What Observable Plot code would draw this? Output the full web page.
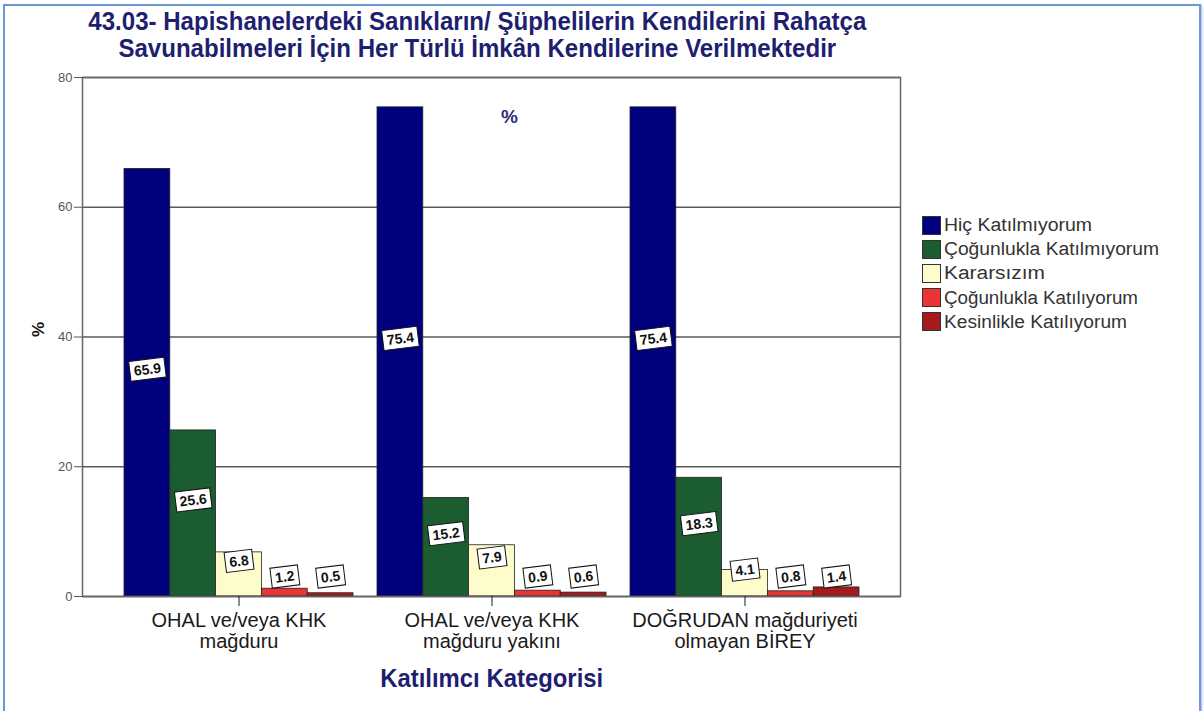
<!DOCTYPE html>
<html>
<head>
<meta charset="utf-8">
<script src="https://cdn.jsdelivr.net/npm/d3@7"></script>
<script src="https://cdn.jsdelivr.net/npm/@observablehq/plot@0.6"></script>
<style>
  html, body { margin: 0; padding: 0; background: #fff; }
  #wrap { position: relative; width: 1204px; height: 711px; overflow: hidden; font-family: "Liberation Sans", Arial, sans-serif; }
  #chart { position: absolute; left: 0; top: 0; }
  .fit { position: absolute; white-space: pre; text-align: center; transform-origin: 50% 50%; }
  .title { font-family: "Liberation Sans Narrow", "Arial Narrow", "Liberation Sans", Arial, sans-serif; font-weight: bold; color: #1f1f70; font-size: 25px; line-height: 27px; }
  .legrow { position: absolute; left: 922px; height: 24px; display: flex; align-items: center; }
  .sw { width: 19px; height: 19px; box-sizing: border-box; border: 1px solid #333; margin-right: 3px; flex: none; }
  .legtxt { font-size: 18px; line-height: 20px; color: #333; white-space: nowrap; transform-origin: 0 50%; display: inline-block; }
  #border { position: absolute; left: 3px; top: 4px; width: 1194px; height: 720px; border: 2px solid #6b98d6; box-shadow: 1px 1px 2px #9bb8e0; }
</style>
</head>
<body>
<div id="wrap">
  <div id="chart"></div>
  <div id="border"></div>
</div>
<script>
const categories = ["OHAL ve/veya KHK\nmağduru", "OHAL ve/veya KHK\nmağduru yakını", "DOĞRUDAN mağduriyeti\nolmayan BİREY"];
const seriesNames = ["Hiç Katılmıyorum", "Çoğunlukla Katılmıyorum", "Kararsızım", "Çoğunlukla Katılıyorum", "Kesinlikle Katılıyorum"];
const hicKatilmiyorum = [65.9, 75.4, 75.4];
const cogunluklaKatilmiyorum = [25.6, 15.2, 18.3];
const kararsizim = [6.8, 7.9, 4.1];
const cogunluklaKatiliyorum = [1.2, 0.9, 0.8];
const kesinlikleKatiliyorum = [0.5, 0.6, 1.4];
const yTicks = [0, 20, 40, 60, 80];
const colors = ["#00007c", "#1b5c31", "#fefcca", "#ec3436", "#a51a1c"];
const titleText = "43.03- Hapishanelerdeki Sanıkların/ Şüphelilerin Kendilerini Rahatça\nSavunabilmeleri İçin Her Türlü İmkân Kendilerine Verilmektedir";
const xTitle = "Katılımcı Kategorisi";
const yTitle = "%";
const innerTitle = "%";

const seriesValues = [hicKatilmiyorum, cogunluklaKatilmiyorum, kararsizim, cogunluklaKatiliyorum, kesinlikleKatiliyorum];
const rows = seriesValues.map((vals, si) => vals.map((v, ci) => ({cat: categories[ci], series: seriesNames[si], si, v})));

const W = 1204, H = 711, mL = 82, mR = 304, mT = 77, mB = 115;
const padInner = 0.0966, padOuter = 0.1617;
const plotW = W - mL - mR;
const step = plotW / (categories.length - padInner + 2 * padOuter);
const bw = step * (1 - padInner);
const sub = bw / seriesNames.length;

const marks = [
  Plot.ruleY(yTicks.filter(d => d > 0), {stroke: "#5a5a5a", strokeWidth: 1.5})
];
rows.forEach((r, i) => {
  marks.push(Plot.barY(r, {x: "cat", y: "v", fill: colors[i], stroke: "#222", strokeWidth: 0.8,
    insetLeft: i * sub, insetRight: (seriesNames.length - 1 - i) * sub}));
});
marks.push(Plot.ruleY([0], {stroke: "#333", strokeWidth: 1.5}));
marks.push(Plot.frame({stroke: "#666", strokeWidth: 1.5}));
marks.push(Plot.axisY({ticks: yTicks, tickSize: 8, tickPadding: 2, fontSize: 13, color: "#555", label: null}));
marks.push(Plot.axisX({tickSize: 10, tickPadding: 6, fontSize: 20, lineHeight: 1.05, color: "#1a1a1a", label: null,
  fontFamily: "Liberation Sans Narrow, Arial Narrow, Liberation Sans, Arial, sans-serif"}));
rows.forEach((r, i) => {
  marks.push(Plot.text(r, {x: "cat", y: d => Math.max(d.v / 2, 1), dx: (i - 2) * sub, dy: -13,
    text: d => d.v.toFixed(1), rotate: -7, fontWeight: "bold", fontSize: 14, fill: "#111",
    ariaDescription: "value-label"}));
});
marks.push(Plot.text([yTitle], {frameAnchor: "left", dx: -44, rotate: -90, text: d => d, fontWeight: "bold", fontSize: 17, fill: "#111"}));
marks.push(Plot.text([innerTitle], {frameAnchor: "top", dx: 18, dy: 32, text: d => d, fontWeight: "bold", fontSize: 19, fill: "#2e2e7a"}));

const chart = Plot.plot({
  width: W, height: H,
  marginLeft: mL, marginRight: mR, marginTop: mT, marginBottom: mB,
  x: {domain: categories, paddingInner: padInner, paddingOuter: padOuter, label: null, axis: null},
  y: {domain: [0, 80], label: null, axis: null},
  style: {fontFamily: "Liberation Sans, Arial, sans-serif", background: "transparent", overflow: "visible"},
  marks
});
document.getElementById("chart").appendChild(chart);

// white boxes behind value labels
chart.querySelectorAll('g[aria-description="value-label"] text').forEach(t => {
  const b = t.getBBox();
  const rect = document.createElementNS("http://www.w3.org/2000/svg", "rect");
  rect.setAttribute("x", b.x - 4);
  rect.setAttribute("y", b.y - 2);
  rect.setAttribute("width", b.width + 8);
  rect.setAttribute("height", b.height + 4);
  rect.setAttribute("fill", "#fff");
  rect.setAttribute("stroke", "#111");
  rect.setAttribute("stroke-width", "1");
  const tr = t.getAttribute("transform");
  if (tr) rect.setAttribute("transform", tr);
  t.parentNode.insertBefore(rect, t);
});

const wrap = document.getElementById("wrap");
function fitDiv(text, cls, cx, cy, width) {
  const d = document.createElement("div");
  d.className = "fit " + cls;
  d.textContent = text;
  wrap.appendChild(d);
  const r = d.getBoundingClientRect();
  d.style.left = (cx - r.width / 2) + "px";
  d.style.top = (cy - r.height / 2) + "px";
  d.style.transform = `scaleX(${width / r.width})`;
  return d;
}
fitDiv(titleText, "title", 477, 35, 778);
fitDiv(xTitle, "title", 492, 678, 223);

const legendWidths = [148, 215, 101, 194, 183];
seriesNames.forEach((s, i) => {
  const row = document.createElement("div");
  row.className = "legrow";
  row.style.top = (225 + i * 24.2 - 12) + "px";
  const sw = document.createElement("div");
  sw.className = "sw";
  sw.style.background = colors[i];
  const tx = document.createElement("span");
  tx.className = "legtxt";
  tx.textContent = s;
  row.appendChild(sw); row.appendChild(tx);
  wrap.appendChild(row);
  const w = tx.getBoundingClientRect().width;
  tx.style.transform = `scaleX(${legendWidths[i] / w})`;
});
</script>
</body>
</html>
